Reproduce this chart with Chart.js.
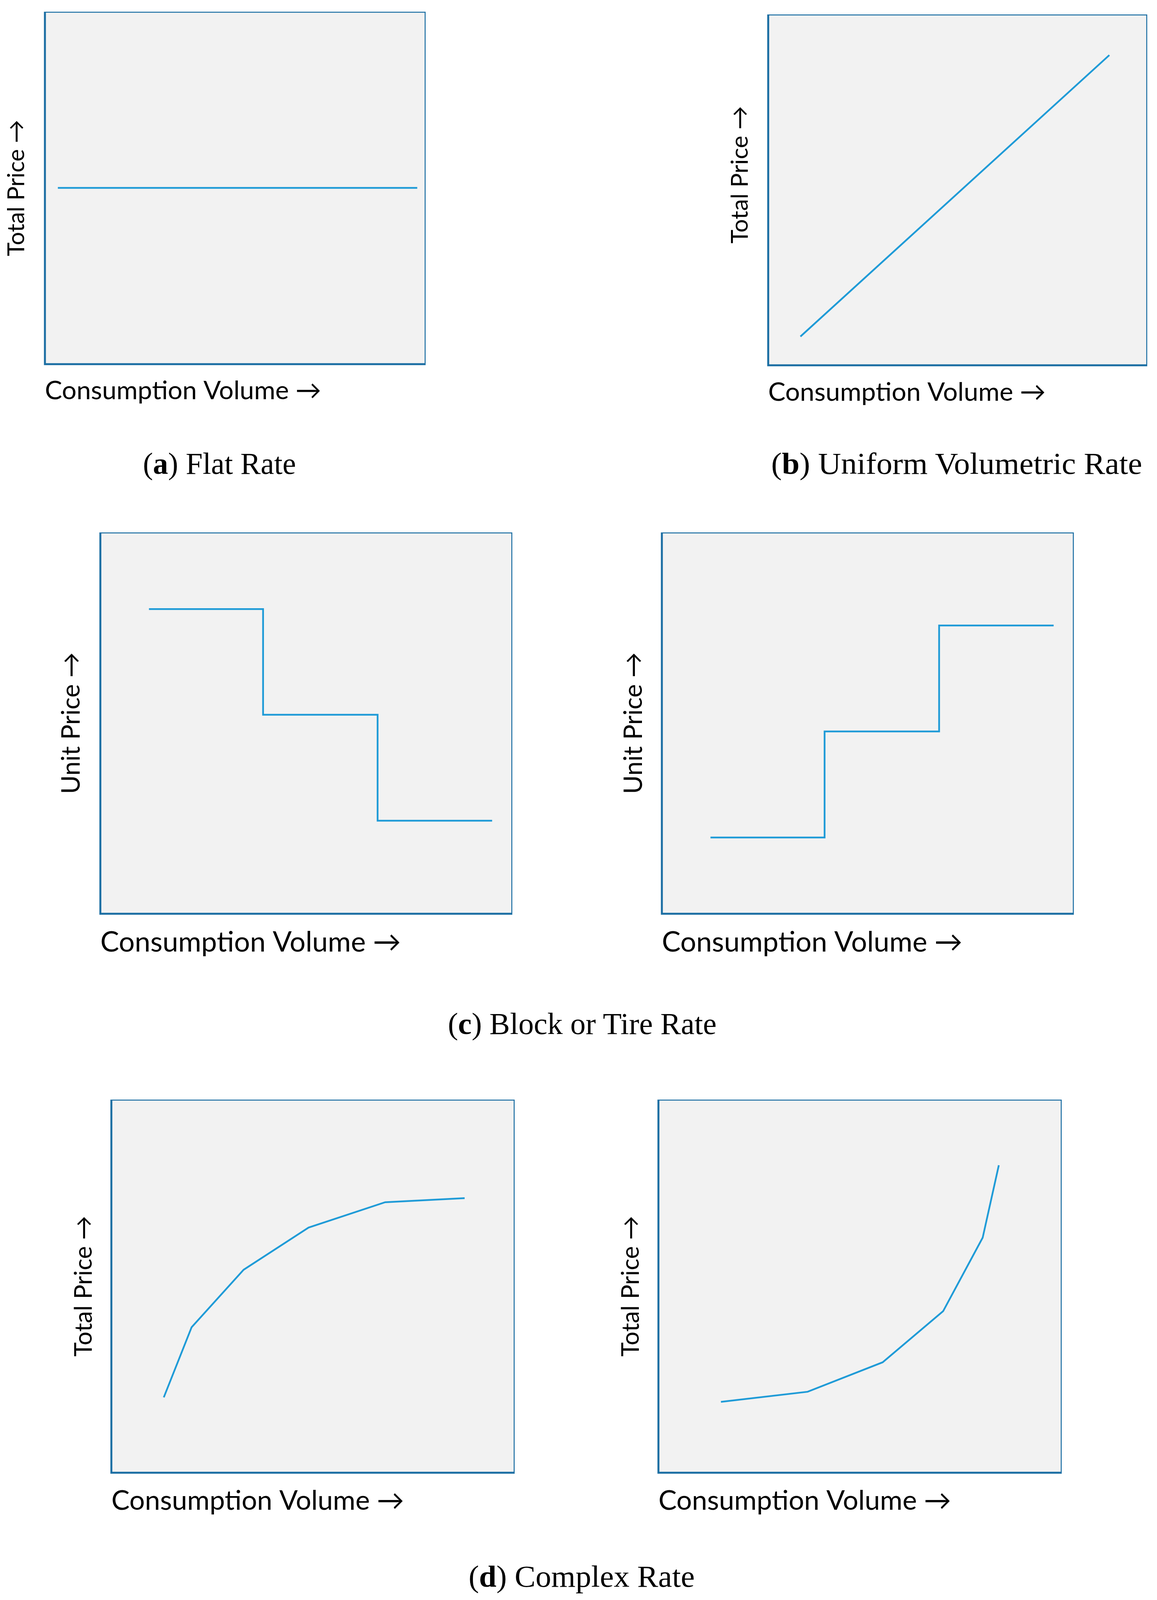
<!DOCTYPE html>
<html>
<head>
<meta charset="utf-8">
<script src="https://cdn.jsdelivr.net/npm/chart.js@4.4.1/dist/chart.umd.min.js"></script>
<style>
html,body{margin:0;padding:0;background:#ffffff;}
body{width:2963px;height:4428px;position:relative;overflow:hidden;}
canvas{position:absolute;}
.cap{position:absolute;font-family:"Liberation Serif","Times New Roman",serif;font-size:84px;color:#000;white-space:nowrap;line-height:1;transform-origin:0 0;}
</style>
</head>
<body>
<canvas id="cA"></canvas>
<canvas id="cB"></canvas>
<canvas id="cC1"></canvas>
<canvas id="cC2"></canvas>
<canvas id="cD1"></canvas>
<canvas id="cD2"></canvas>
<script>
// ---------- data (axes run 0..100 across each framed plot) ----------
const xTitleText = 'Consumption Volume →';
const totalPriceTitle = 'Total Price →';
const unitPriceTitle = 'Unit Price →';

// (a) Flat rate
const flatX = [3.4, 97.8];
const flatY = [50.0, 50.0];
// (b) Uniform volumetric rate
const uniformX = [8.5, 90.0];
const uniformY = [8.2, 88.4];
// (c) Block or tier rate
const blockEdges = [11.8, 39.5, 67.3, 95.1];
const decliningPrices = [79.9, 52.2, 24.4];
const increasingPrices = [20.0, 47.8, 75.6];
// (d) Complex rate
const concaveX = [13.0, 19.9, 32.8, 48.9, 67.9, 87.6];
const concaveY = [20.2, 39.0, 54.4, 65.7, 72.5, 73.6];
const convexX = [15.5, 37.0, 55.6, 70.6, 80.4, 84.4];
const convexY = [19.0, 21.7, 29.6, 43.3, 63.0, 82.4];

// captions
const captionLetters = ['a', 'b', 'c', 'd'];
const captionTexts = ['Flat Rate', 'Uniform Volumetric Rate', 'Block or Tire Rate', 'Complex Rate'];

// ---------- layout (designed for a 2963 x 4428 page, fitted to the visible viewport) ----------
const REF_W = 2963, REF_H = 4428;
const SX = Math.min(1, (window.innerWidth || REF_W) / REF_W);
const SY = Math.min(1, (window.innerHeight || REF_H) / REF_H);

const LINE_COLOR = '#1f9bd7';
const FRAME_COLOR = '#1b6ea3';
const PLOT_BG = '#f2f2f2';
const TITLE_FONT = 'Lato';

function zipPoints(xs, ys) { return xs.map((x, i) => ({x: x, y: ys[i]})); }
function blockPoints(edges, prices) {
  const pts = [];
  prices.forEach((p, i) => { pts.push({x: edges[i], y: p}); pts.push({x: edges[i + 1], y: p}); });
  return pts;
}

const measureCtx = document.createElement('canvas').getContext('2d');
function textWidth(text, family, size) {
  measureCtx.font = size + 'px "' + family + '"';
  return measureCtx.measureText(text).width;
}
function fitFont(text, family, targetW) { return 100 * targetW / textWidth(text, family, 100); }

const framePlugin = {
  id: 'frame',
  beforeDraw(chart) {
    const a = chart.chartArea, ctx = chart.ctx;
    ctx.save(); ctx.fillStyle = PLOT_BG; ctx.fillRect(a.left, a.top, a.right - a.left, a.bottom - a.top); ctx.restore();
  },
  afterDraw(chart) {
    const a = chart.chartArea, ctx = chart.ctx;
    ctx.save(); ctx.strokeStyle = FRAME_COLOR; ctx.lineWidth = 5;
    ctx.strokeRect(a.left, a.top, a.right - a.left, a.bottom - a.top); ctx.restore();
  }
};

function config(p, fx, fy, yText) {
  return {
    type: 'line',
    data: {datasets: [{data: p.points, borderColor: LINE_COLOR, borderWidth: 4.5, pointRadius: 0, tension: 0, fill: false,
                       borderCapStyle: 'butt', borderJoinStyle: 'miter'}]},
    options: {
      responsive: false, maintainAspectRatio: false, animation: false, devicePixelRatio: 1,
      layout: {padding: 0},
      plugins: {legend: {display: false}, tooltip: {enabled: false}},
      scales: {
        x: {type: 'linear', min: 0, max: 100, grid: {display: false}, border: {display: false}, ticks: {display: false},
            title: {display: true, text: xTitleText, align: 'start', color: '#000',
                    font: {family: TITLE_FONT, size: fx, lineHeight: 1.2}, padding: {top: p.xGap * SY - fx * 0.6, bottom: 0}}},
        y: {type: 'linear', min: 0, max: 100, grid: {display: false}, border: {display: false}, ticks: {display: false},
            title: {display: true, text: yText, color: '#000',
                    font: {family: TITLE_FONT, size: fy, lineHeight: 1.2}, padding: {top: 0, bottom: p.yGap * SX - fy * 0.6}}}
      }
    },
    plugins: [framePlugin]
  };
}

function makeChart(p) {
  const canvas = document.getElementById(p.id);
  const fx = fitFont(xTitleText, TITLE_FONT, p.xw * SX);
  const fy = fitFont(p.yTitle, TITLE_FONT, p.yw * SY);
  // optional upward offset of the rotated y title (leading spaces lengthen the centred run)
  let yText = p.yTitle;
  if (p.yShift) {
    const sp = textWidth(' ', TITLE_FONT, fy);
    yText = ' '.repeat(Math.round(2 * p.yShift * SY / sp)) + p.yTitle;
  }
  const bx = p.box[0] * SX, by = p.box[1] * SY, bw = p.box[2] * SX, bh = p.box[3] * SY;
  const W0 = Math.round(bw + 400), H0 = Math.round(bh + 400);
  canvas.width = W0; canvas.height = H0;
  canvas.style.width = W0 + 'px'; canvas.style.height = H0 + 'px';
  const probe = new Chart(canvas, config(p, fx, fy, yText));
  const a = probe.chartArea;
  const l = a.left, t = a.top, r = W0 - a.right, b = H0 - a.bottom;
  probe.destroy();
  const W = Math.round(bw + l + r), H = Math.round(bh + t + b);
  canvas.width = W; canvas.height = H;
  canvas.style.width = W + 'px'; canvas.style.height = H + 'px';
  canvas.style.left = (bx - l) + 'px';
  canvas.style.top = (by - t) + 'px';
  new Chart(canvas, config(p, fx, fy, yText));
}

const panels = [
  {id: 'cA',  box: [115, 32, 975, 975],     points: zipPoints(flatX, flatY),       yTitle: totalPriceTitle, xw: 708, yw: 378, xGap: 65, yGap: 64},
  {id: 'cB',  box: [1967, 40, 971, 971],    points: zipPoints(uniformX, uniformY), yTitle: totalPriceTitle, xw: 711, yw: 381, xGap: 66, yGap: 64, yShift: 38},
  {id: 'cC1', box: [257, 1473, 1055, 1055], points: blockPoints(blockEdges, decliningPrices), yTitle: unitPriceTitle, xw: 770, yw: 392, xGap: 71, yGap: 66},
  {id: 'cC2', box: [1695, 1473, 1055, 1055], points: blockPoints(blockEdges, increasingPrices), yTitle: unitPriceTitle, xw: 770, yw: 392, xGap: 71, yGap: 64},
  {id: 'cD1', box: [285, 3043, 1033, 1033], points: zipPoints(concaveX, concaveY), yTitle: totalPriceTitle, xw: 750, yw: 390, xGap: 69, yGap: 62},
  {id: 'cD2', box: [1686, 3043, 1033, 1033], points: zipPoints(convexX, convexY), yTitle: totalPriceTitle, xw: 750, yw: 390, xGap: 69, yGap: 62}
];
panels.forEach(makeChart);

// captions: [centerX, centerY, targetWidth] in reference pixels
const captionPlaces = [[562, 1283, 392], [2450, 1283, 950], [1491, 2833, 688], [1489, 4363, 579]];
captionLetters.forEach((L, i) => {
  const d = document.createElement('div');
  d.className = 'cap';
  const b = document.createElement('b'); b.textContent = L;
  d.appendChild(document.createTextNode('('));
  d.appendChild(b);
  d.appendChild(document.createTextNode(') ' + captionTexts[i]));
  document.body.appendChild(d);
  const rect = d.getBoundingClientRect();
  const [cx, cy, tw] = captionPlaces[i];
  const kx = tw * SX / rect.width;
  d.style.left = (cx * SX - tw * SX / 2) + 'px';
  d.style.top = (cy * SY - rect.height * SY / 2) + 'px';
  d.style.transform = 'scale(' + kx + ',' + SY + ')';
});
</script>
</body>
</html>
